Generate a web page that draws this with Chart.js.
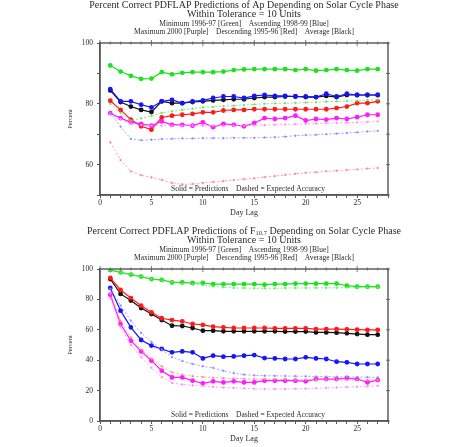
<!DOCTYPE html>
<html>
<head>
<meta charset="utf-8">
<script src="https://cdn.jsdelivr.net/npm/chart.js@4/dist/chart.umd.min.js"></script>
<style>
    html, body { margin: 0; padding: 0; background: #fff; overflow: hidden; }
    .panel { position: absolute; left: 0; width: 452px; height: 223px; }
</style>
</head>
<body>
<div class="panel" style="top:0"><canvas id="apChart" width="452" height="223"></canvas></div>
<div class="panel" style="top:226px"><canvas id="f107Chart" width="452" height="223"></canvas></div>
<script>
// day lag axis
const dayLags = [1, 2, 3, 4, 5, 6, 7, 8, 9, 10, 11, 12, 13, 14, 15, 16, 17, 18, 19, 20, 21, 22, 23, 24, 25, 26, 27];

// Ap, solid = predictions, *Exp = expected accuracy (dashed)
const apMinimum = [92.6, 90.6, 89.2, 88.2, 88.3, 90.4, 89.7, 90.2, 90.4, 90.4, 90.4, 90.6, 91.1, 91.3, 91.4, 91.4, 91.4, 91.4, 91.1, 91.4, 90.9, 91.1, 91.4, 91.1, 90.9, 91.4, 91.4];
const apMinimumExp = [80.0, 77.0, 74.5, 75.2, 76.0, 77.0, 77.5, 78.0, 78.4, 78.8, 79.0, 79.2, 79.4, 79.6, 79.8, 80.0, 80.1, 80.2, 80.3, 80.4, 80.5, 80.7, 80.8, 80.9, 81.0, 81.2, 81.3];
const apAscending = [84.8, 80.8, 80.8, 79.7, 78.8, 80.8, 81.3, 80.2, 80.8, 81.1, 81.9, 82.4, 82.4, 81.9, 82.6, 82.9, 82.6, 82.6, 82.4, 82.4, 82.2, 83.3, 82.4, 83.3, 82.9, 82.9, 82.9];
const apAscendingExp = [77.0, 72.5, 68.5, 68.0, 68.2, 68.4, 68.5, 68.6, 68.6, 68.7, 68.7, 68.7, 68.8, 68.8, 68.8, 68.9, 69.0, 69.2, 69.5, 69.7, 69.8, 70.0, 70.2, 70.4, 70.6, 70.9, 71.1];
const apMaximum = [76.9, 75.3, 73.9, 73.4, 72.8, 74.2, 73.1, 73.1, 72.8, 73.9, 72.3, 73.4, 73.1, 72.6, 73.7, 75.3, 75.0, 75.3, 76.1, 74.5, 75.0, 74.8, 75.3, 75.0, 75.6, 76.4, 76.4];
const apMaximumExp = [76.5, 75.0, 73.5, 73.0, 72.8, 72.8, 72.8, 72.8, 72.8, 72.8, 72.8, 72.8, 72.8, 72.8, 72.9, 73.0, 73.1, 73.2, 73.3, 73.4, 73.5, 73.6, 73.7, 73.8, 73.9, 74.0, 74.2];
const apDescending = [81.0, 78.0, 74.8, 72.6, 71.5, 75.5, 76.1, 76.4, 76.7, 77.2, 77.2, 77.8, 78.0, 78.0, 78.2, 78.2, 78.2, 78.2, 78.2, 78.2, 78.2, 78.2, 78.6, 79.1, 80.2, 80.2, 80.8];
const apDescendingExp = [67.3, 61.5, 57.8, 56.5, 55.8, 55.0, 54.0, 53.5, 53.6, 54.0, 54.3, 54.6, 54.9, 55.2, 55.5, 55.9, 56.2, 56.6, 57.0, 57.3, 57.5, 57.8, 58.0, 58.2, 58.4, 58.7, 58.9];
const apAverage = [84.4, 80.6, 79.1, 78.0, 77.3, 80.8, 80.2, 80.2, 80.6, 80.8, 81.1, 81.3, 81.5, 81.5, 81.9, 82.2, 82.2, 82.4, 82.4, 82.2, 82.2, 82.6, 82.2, 82.9, 82.9, 82.9, 82.9];

// F10.7
const fMinimum = [99.3, 97.8, 96.3, 95.0, 93.4, 92.8, 91.2, 91.2, 90.8, 90.8, 90.1, 90.1, 90.1, 90.1, 90.1, 89.7, 90.1, 90.1, 90.4, 90.4, 90.4, 90.4, 90.4, 89.0, 88.4, 88.4, 88.4];
const fMinimumExp = [99.5, 98.0, 96.5, 95.0, 93.5, 92.5, 91.5, 90.5, 90.0, 89.5, 88.5, 88.0, 87.5, 87.5, 87.3, 87.3, 87.3, 87.5, 87.5, 87.5, 87.6, 87.6, 87.6, 87.8, 88.0, 88.0, 88.0];
const fAscending = [87.5, 72.6, 61.6, 53.3, 49.6, 47.4, 45.2, 45.8, 45.2, 41.2, 43.0, 42.3, 42.5, 43.0, 43.4, 41.4, 41.2, 40.8, 40.8, 41.9, 41.2, 40.8, 39.0, 38.6, 37.5, 37.5, 37.5];
const fAscendingExp = [87.0, 76.0, 66.0, 58.0, 52.0, 47.0, 42.0, 39.5, 37.5, 36.0, 35.0, 33.0, 31.5, 30.5, 30.0, 29.8, 29.7, 29.6, 29.5, 29.4, 29.3, 29.2, 29.1, 29.0, 28.9, 28.8, 28.7];
const fMaximum = [83.1, 63.8, 52.8, 45.8, 39.7, 33.1, 28.7, 28.7, 26.5, 24.8, 26.1, 25.4, 26.1, 25.4, 25.4, 26.5, 26.5, 26.5, 26.5, 26.1, 27.6, 27.6, 27.6, 28.3, 27.6, 25.4, 26.9];
const fMaximumExp = [81.0, 62.0, 50.0, 42.0, 35.0, 29.0, 25.0, 24.0, 23.5, 23.0, 22.5, 22.0, 21.8, 21.5, 21.2, 21.0, 21.0, 21.0, 21.2, 21.3, 21.5, 21.8, 22.0, 22.3, 22.5, 22.8, 23.2];
const fDescending = [94.1, 86.2, 80.9, 75.9, 71.5, 67.6, 66.4, 65.6, 63.8, 63.2, 62.1, 61.6, 61.2, 61.2, 61.2, 61.2, 61.0, 61.0, 61.0, 61.0, 60.5, 60.5, 60.5, 60.3, 60.1, 59.9, 59.9];
const fDescendingExp = [84.0, 66.0, 55.0, 47.0, 41.0, 36.0, 32.0, 30.5, 29.5, 29.0, 28.5, 28.2, 28.0, 27.8, 27.6, 27.5, 27.4, 27.3, 27.2, 27.2, 27.1, 27.1, 27.0, 27.0, 27.0, 27.0, 27.0];
const fAverage = [93.4, 83.6, 79.2, 74.3, 70.4, 66.4, 62.7, 62.5, 61.2, 59.4, 59.4, 59.0, 59.0, 59.0, 59.0, 59.0, 59.0, 58.8, 58.8, 58.8, 58.3, 58.3, 58.1, 57.7, 57.2, 56.8, 56.8];

const xTicksMajor = [0, 5, 10, 15, 20, 25];

const SERIF = "'Liberation Serif', 'DejaVu Serif', serif";
const INK = '#2a2a2a';

const COLORS = {
    green: ['#1ee01e', '#5aee5a'],
    blue: ['#1414ff', '#8c8cff'],
    magenta: ['#ff1aff', '#ff8cff'],
    red: ['#ff1a1a', '#ff8a8a'],
    black: ['#111111', '#777777']
};

function pts(values) {
    return values.map((v, i) => ({ x: dayLags[i], y: v }));
}

function solid(values, color) {
    return {
        data: pts(values),
        borderColor: color,
        backgroundColor: color,
        borderWidth: 1.2,
        pointRadius: 1.8,
        pointStyle: 'circle',
        tension: 0
    };
}

function dashed(values, color) {
    return {
        data: pts(values),
        borderColor: color,
        backgroundColor: color,
        borderWidth: 0.8,
        borderDash: [2, 2],
        pointRadius: 0.8,
        tension: 0
    };
}

// titles, frame ticks and the inside note
const decorPlugin = {
    id: 'decor',
    afterDraw(chart, args, opts) {
        const ctx = chart.ctx;
        const area = chart.chartArea;
        const cx = (area.left + area.right) / 2;
        ctx.save();

        // frame
        ctx.strokeStyle = '#555';
        ctx.lineWidth = 1.4;
        ctx.strokeRect(area.left, area.top, area.right - area.left, area.bottom - area.top);
        ctx.lineWidth = 0.8;
        chart.scales.x.ticks.forEach(t => {
            const px = chart.scales.x.getPixelForValue(t.value);
            const len = t.value % 5 === 0 ? 3 : 1.5;
            ctx.beginPath();
            ctx.moveTo(px, area.top - len);
            ctx.lineTo(px, area.top + len);
            ctx.stroke();
        });
        chart.scales.y.ticks.forEach(t => {
            const py = chart.scales.y.getPixelForValue(t.value);
            ctx.beginPath();
            ctx.moveTo(area.right - 2, py);
            ctx.lineTo(area.right + 2, py);
            ctx.stroke();
        });

        // heading lines
        ctx.fillStyle = INK;
        ctx.textBaseline = 'middle';
        opts.lines.forEach(line => {
            const segs = line.segs;
            let total = 0;
            segs.forEach(s => {
                ctx.font = (s.sub ? line.size * 0.65 : line.size) + 'px ' + SERIF;
                total += ctx.measureText(s.t).width;
            });
            let x = cx - total / 2;
            ctx.textAlign = 'left';
            segs.forEach(s => {
                ctx.font = (s.sub ? line.size * 0.65 : line.size) + 'px ' + SERIF;
                ctx.fillText(s.t, x, line.y + (s.sub ? 2.5 : 0));
                x += ctx.measureText(s.t).width;
            });
        });

        ctx.font = '7.5px ' + SERIF;
        ctx.textAlign = 'center';
        ctx.fillText('Solid = Predictions    Dashed = Expected Accuracy', cx + 4, area.bottom - 6);
        ctx.restore();
    }
};

function buildChart(canvasId, series, yMin, yMax, yStep, yLabelStep, headLines) {
    const datasets = [
        dashed(series.minExp, COLORS.green[1]),
        dashed(series.ascExp, COLORS.blue[1]),
        dashed(series.maxExp, COLORS.magenta[1]),
        dashed(series.descExp, COLORS.red[1]),
        solid(series.min, COLORS.green[0]),
        solid(series.max, COLORS.magenta[0]),
        solid(series.desc, COLORS.red[0]),
        solid(series.asc, COLORS.blue[0]),
        solid(series.avg, COLORS.black[0])
    ];

    return new Chart(document.getElementById(canvasId), {
        type: 'line',
        data: { datasets },
        options: {
            responsive: false,
            animation: false,
            layout: { padding: { left: 62, right: 64, top: 43, bottom: 0 } },
            plugins: {
                legend: { display: false },
                tooltip: { enabled: false },
                decor: { lines: headLines }
            },
            scales: {
                x: {
                    type: 'linear',
                    min: 0,
                    max: 28,
                    afterFit: s => { s.height = 28; },
                    ticks: {
                        stepSize: 1,
                        autoSkip: false,
                        maxRotation: 0,
                        padding: 1,
                        color: INK,
                        font: { family: SERIF, size: 7.5 },
                        callback: v => xTicksMajor.includes(v) ? String(v) : ''
                    },
                    grid: { drawOnChartArea: false, tickLength: 3, color: '#555' },
                    border: { color: '#555', width: 1.4 },
                    title: {
                        display: true,
                        text: 'Day Lag',
                        color: INK,
                        font: { family: SERIF, size: 8 },
                        padding: { top: 0, bottom: 5 }
                    }
                },
                y: {
                    min: yMin,
                    max: yMax,
                    afterFit: s => { s.width = 38; },
                    ticks: {
                        stepSize: yStep,
                        padding: 4,
                        color: INK,
                        font: { family: SERIF, size: 7.5 },
                        callback: v => v % yLabelStep === 0 ? String(v) : ''
                    },
                    grid: { drawOnChartArea: false, tickLength: 3, color: '#555' },
                    border: { color: '#555', width: 1.4 },
                    title: {
                        display: true,
                        text: 'Percent',
                        color: INK,
                        font: { family: SERIF, size: 6.5 },
                        padding: { top: 4, bottom: 0 }
                    }
                }
            }
        },
        plugins: [decorPlugin]
    });
}

const legendLine3 = 'Minimum 1996-97 [Green]    Ascending 1998-99 [Blue]';
const legendLine4 = 'Maximum 2000 [Purple]    Descending 1995-96 [Red]    Average [Black]';

buildChart('apChart', {
    min: apMinimum, minExp: apMinimumExp,
    asc: apAscending, ascExp: apAscendingExp,
    max: apMaximum, maxExp: apMaximumExp,
    desc: apDescending, descExp: apDescendingExp,
    avg: apAverage
}, 50, 100, 10, 20, [
    { y: 5, size: 10, segs: [{ t: 'Percent Correct PDFLAP Predictions of Ap Depending on Solar Cycle Phase' }] },
    { y: 14, size: 10, segs: [{ t: 'Within Tolerance = 10 Units' }] },
    { y: 24, size: 7.5, segs: [{ t: legendLine3 }] },
    { y: 32, size: 7.5, segs: [{ t: legendLine4 }] }
]);

buildChart('f107Chart', {
    min: fMinimum, minExp: fMinimumExp,
    asc: fAscending, ascExp: fAscendingExp,
    max: fMaximum, maxExp: fMaximumExp,
    desc: fDescending, descExp: fDescendingExp,
    avg: fAverage
}, 0, 100, 20, 20, [
    { y: 5, size: 10, segs: [{ t: 'Percent Correct PDFLAP Predictions of F' }, { t: '10.7', sub: true }, { t: ' Depending on Solar Cycle Phase' }] },
    { y: 14, size: 10, segs: [{ t: 'Within Tolerance = 10 Units' }] },
    { y: 24, size: 7.5, segs: [{ t: legendLine3 }] },
    { y: 32, size: 7.5, segs: [{ t: legendLine4 }] }
]);
</script>
</body>
</html>
